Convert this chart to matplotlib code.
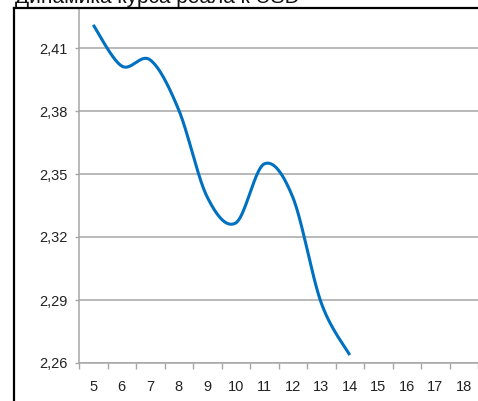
import numpy as np
import matplotlib
matplotlib.use("Agg")
import matplotlib.pyplot as plt
from matplotlib.lines import Line2D

# Data
days = [5, 6, 7, 8, 9, 10, 11, 12, 13, 14]
rate = [2.421, 2.4014, 2.4043, 2.3805, 2.339, 2.3267, 2.3548, 2.339, 2.2886, 2.2638]
categories = [str(d) for d in range(5, 19)]
yticks = [2.26, 2.29, 2.32, 2.35, 2.38, 2.41]
ytick_labels = ["2,26", "2,29", "2,32", "2,35", "2,38", "2,41"]
title = "Динамика курса реала к USD"

FAM = ["Liberation Sans Narrow", "Liberation Sans", "DejaVu Sans"]
plt.rcParams['font.family'] = FAM

W, H = 478, 401
fig = plt.figure(figsize=(W / 100, H / 100), dpi=100)

def fx(px):
    return px / W

def fy(py):
    return 1 - py / H

ax_l, ax_r, ax_t, ax_b = 79, 478, 9, 363
ax = fig.add_axes([fx(ax_l), fy(ax_b), fx(ax_r - ax_l), (ax_b - ax_t) / H])

# Smooth curve (Catmull-Rom / Excel-like smoothing) through data points
xs = np.array(days, dtype=float)
ys = np.array(rate, dtype=float)
P = np.column_stack([xs, ys])
n = len(P)
pts = []
for i in range(n - 1):
    p0 = P[max(i - 1, 0)]
    p1 = P[i]
    p2 = P[i + 1]
    p3 = P[min(i + 2, n - 1)]
    c1 = p1 + (p2 - p0) / 6.0
    c2 = p2 - (p3 - p1) / 6.0
    t = np.linspace(0, 1, 40)[:, None]
    seg = ((1 - t) ** 3) * p1 + 3 * ((1 - t) ** 2) * t * c1 + 3 * (1 - t) * t ** 2 * c2 + t ** 3 * p2
    pts.append(seg if i == 0 else seg[1:])
curve = np.vstack(pts)
ax.plot(curve[:, 0], curve[:, 1], color="#0070C0", lw=2.2, solid_capstyle="butt", zorder=3, clip_on=False)

ax.set_xlim(4.5, 18.5)
ax.set_ylim(2.26, 2.41 + (48 - 9) / 63 * 0.03)

# grid
ax.set_yticks(yticks)
ax.set_yticklabels(ytick_labels)
ax.yaxis.grid(True, color="#a6a6a6", lw=1.1)
ax.set_axisbelow(True)

# x ticks: marks at boundaries, labels at centers
ax.set_xticks(np.arange(4.5, 19.0, 1.0))
ax.set_xticklabels([])
ax.set_xticks(np.arange(5, 19), minor=True)
ax.set_xticklabels(categories, minor=True)
ax.tick_params(axis="x", which="major", length=4, width=1.0, color="#a6a6a6", direction="out")
ax.tick_params(axis="x", which="minor", length=0, pad=12, labelsize=10.5, labelcolor="#222222")
ax.tick_params(axis="y", length=3, width=1.0, color="#a6a6a6", pad=5, labelsize=10.5, labelcolor="#222222")

for s in ["top", "right"]:
    ax.spines[s].set_visible(False)
for s in ["left", "bottom"]:
    ax.spines[s].set_color("#a6a6a6")
    ax.spines[s].set_linewidth(1.1)

# outer chart frame (black)
fig.add_artist(Line2D([fx(14), fx(478)], [fy(7.5), fy(7.5)], color="black", lw=1.6, transform=fig.transFigure))
fig.add_artist(Line2D([fx(14), fx(14)], [fy(7.5), fy(401)], color="black", lw=1.6, transform=fig.transFigure))

# title (cut at top in reference)
fig.text(fx(15), fy(3.0), title, fontsize=15, ha="left", va="baseline", color="#111111")

fig.savefig("out.png", dpi=100)
